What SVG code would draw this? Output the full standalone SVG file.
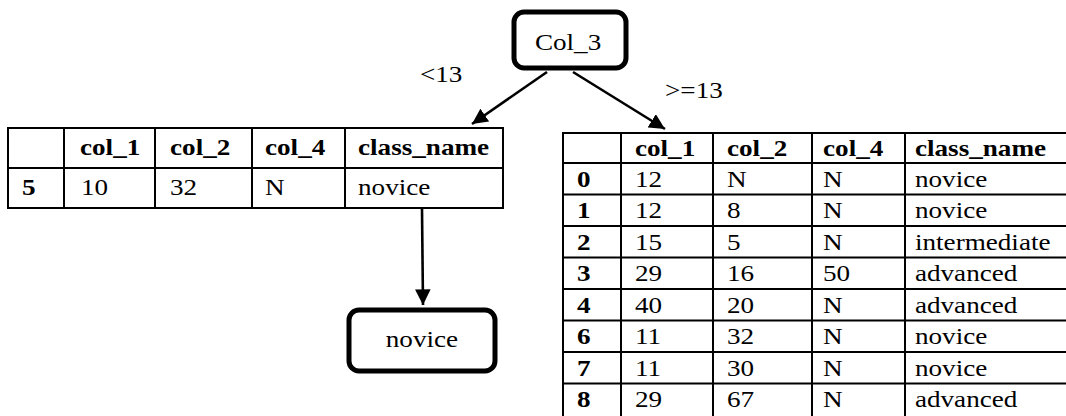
<svg xmlns="http://www.w3.org/2000/svg" width="1066" height="416" viewBox="0 0 1066 416">
<defs>
<marker id="arr" markerWidth="6" markerHeight="6" refX="6" refY="3" orient="auto" markerUnits="strokeWidth"><path d="M0,0 L6,3 L0,6 Z" fill="#000"/></marker>
<style>
.t{font-family:"Liberation Serif","DejaVu Serif",serif;font-size:23px;fill:#000}
.b{font-weight:bold}
.c{text-anchor:middle}
.node{fill:#fff;stroke:#000;stroke-width:5}
.grid{fill:none;stroke:#000;stroke-width:2}
.edge{stroke:#000;stroke-width:2.6;fill:none}
</style>
</defs>
<rect width="1066" height="416" fill="#fff"/>
<g id="connectors">
<line class="edge" x1="547" y1="72" x2="472" y2="124" marker-end="url(#arr)"/>
<line class="edge" x1="573" y1="72" x2="665" y2="129" marker-end="url(#arr)"/>
<line class="edge" x1="422" y1="209" x2="423" y2="305" marker-end="url(#arr)"/>
<g transform="scale(1.18,1)" font-family="Liberation Serif, serif">
<text class="t" x="355.9" y="82">&lt;13</text>
<text class="t" x="563.6" y="98">&gt;=13</text>
</g>
</g>
<g id="root">
<rect class="node" x="514" y="12" width="112" height="56" rx="10"/>
<text class="t c" transform="scale(1.18,1)" x="481.4" y="50">Col_3</text>
</g>
<g id="left-table">
<rect class="grid" x="8" y="128" width="495" height="80"/>
<line class="grid" x1="8" y1="168" x2="503" y2="168"/>
<line class="grid" x1="64" y1="128" x2="64" y2="208"/>
<line class="grid" x1="155" y1="128" x2="155" y2="208"/>
<line class="grid" x1="252" y1="128" x2="252" y2="208"/>
<line class="grid" x1="345" y1="128" x2="345" y2="208"/>
<g transform="scale(1.18,1)">
<text class="t b" x="67.8" y="155">col_1</text>
<text class="t b" x="144.1" y="155">col_2</text>
<text class="t b" x="224.6" y="155">col_4</text>
<text class="t b" x="303.4" y="155">class_name</text>
<text class="t b" x="18.6" y="195">5</text>
<text class="t" x="68.6" y="195">10</text>
<text class="t" x="144.1" y="195">32</text>
<text class="t" x="224.6" y="195">N</text>
<text class="t" x="303.4" y="195">novice</text>
</g>
</g>
<g id="leaf">
<rect class="node" x="349" y="310" width="146" height="61" rx="10"/>
<text class="t c" transform="scale(1.18,1)" x="357.6" y="347">novice</text>
</g>
<g id="right-table">
<rect class="grid" x="563" y="133" width="510" height="286"/>
<line class="grid" x1="563" y1="163" x2="1066" y2="163"/>
<line class="grid" x1="563" y1="194.5" x2="1066" y2="194.5"/>
<line class="grid" x1="563" y1="226" x2="1066" y2="226"/>
<line class="grid" x1="563" y1="257.5" x2="1066" y2="257.5"/>
<line class="grid" x1="563" y1="289" x2="1066" y2="289"/>
<line class="grid" x1="563" y1="320.5" x2="1066" y2="320.5"/>
<line class="grid" x1="563" y1="352" x2="1066" y2="352"/>
<line class="grid" x1="563" y1="383.5" x2="1066" y2="383.5"/>
<line class="grid" x1="621" y1="133" x2="621" y2="418"/>
<line class="grid" x1="713" y1="133" x2="713" y2="418"/>
<line class="grid" x1="812" y1="133" x2="812" y2="418"/>
<line class="grid" x1="905" y1="133" x2="905" y2="418"/>
<g transform="scale(1.18,1)">
<text class="t b" x="538.1" y="156">col_1</text>
<text class="t b" x="616.1" y="156">col_2</text>
<text class="t b" x="697.5" y="156">col_4</text>
<text class="t b" x="775.4" y="156">class_name</text>
<g class="t b">
<text x="489" y="187">0</text><text x="489" y="218.5">1</text><text x="489" y="250">2</text><text x="489" y="281.5">3</text>
<text x="489" y="313">4</text><text x="489" y="344.5">6</text><text x="489" y="376">7</text><text x="489" y="407.5">8</text>
</g>
<g class="t">
<text x="538.1" y="187">12</text><text x="616.1" y="187">N</text><text x="697.5" y="187">N</text><text x="775.4" y="187">novice</text>
<text x="538.1" y="218.5">12</text><text x="616.1" y="218.5">8</text><text x="697.5" y="218.5">N</text><text x="775.4" y="218.5">novice</text>
<text x="538.1" y="250">15</text><text x="616.1" y="250">5</text><text x="697.5" y="250">N</text><text x="775.4" y="250">intermediate</text>
<text x="538.1" y="281.5">29</text><text x="616.1" y="281.5">16</text><text x="697.5" y="281.5">50</text><text x="775.4" y="281.5">advanced</text>
<text x="538.1" y="313">40</text><text x="616.1" y="313">20</text><text x="697.5" y="313">N</text><text x="775.4" y="313">advanced</text>
<text x="538.1" y="344.5">11</text><text x="616.1" y="344.5">32</text><text x="697.5" y="344.5">N</text><text x="775.4" y="344.5">novice</text>
<text x="538.1" y="376">11</text><text x="616.1" y="376">30</text><text x="697.5" y="376">N</text><text x="775.4" y="376">novice</text>
<text x="538.1" y="407.5">29</text><text x="616.1" y="407.5">67</text><text x="697.5" y="407.5">N</text><text x="775.4" y="407.5">advanced</text>
</g>
</g>
</g>
</svg>
